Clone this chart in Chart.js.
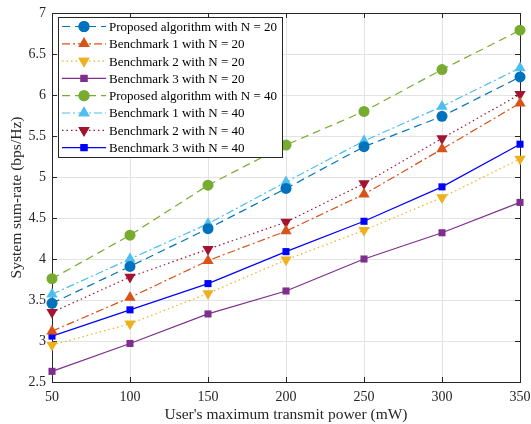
<!DOCTYPE html>
<html>
<head>
<meta charset="utf-8">
<script src="https://cdn.jsdelivr.net/npm/chart.js@4/dist/chart.umd.min.js"></script>
<style>
  html, body { margin: 0; padding: 0; background: #fff; }
  #wrap { width: 531px; height: 424px; }
</style>
</head>
<body>
<div id="wrap"><canvas id="grafica" width="531" height="424"></canvas></div>
<script>
// potencias (mW)
const potencias = [50, 100, 150, 200, 250, 300, 350];

// tasa total (bps/Hz)
const propuestoN20 = [3.46, 3.91, 4.37, 4.86, 5.37, 5.74, 6.22];
const bench1N20 = [3.12, 3.53, 3.98, 4.34, 4.79, 5.34, 5.90];
const bench2N20 = [2.95, 3.21, 3.58, 3.99, 4.35, 4.75, 5.22];
const bench3N20 = [2.63, 2.97, 3.33, 3.61, 4.00, 4.32, 4.69];
const propuestoN40 = [3.76, 4.29, 4.90, 5.39, 5.80, 6.31, 6.79];
const bench1N40 = [3.57, 4.00, 4.43, 4.94, 5.44, 5.86, 6.33];
const bench2N40 = [3.35, 3.78, 4.12, 4.45, 4.92, 5.47, 6.01];
const bench3N40 = [3.06, 3.38, 3.70, 4.09, 4.46, 4.88, 5.40];

const etiquetas = [
    'Proposed algorithm with N = 20',
    'Benchmark 1 with N = 20',
    'Benchmark 2 with N = 20',
    'Benchmark 3 with N = 20',
    'Proposed algorithm with N = 40',
    'Benchmark 1 with N = 40',
    'Benchmark 2 with N = 40',
    'Benchmark 3 with N = 40',
];

const DASH = [8, 5];
const DASHDOT = [8, 3, 2, 3];
const DOT = [1.5, 3];

function serie(label, data, color, dash, estilo, rot, radio) {
    return {
        label: label,
        data: data.map((v, i) => ({ x: potencias[i], y: v })),
        borderColor: color,
        backgroundColor: color,
        borderWidth: 1.2,
        borderDash: dash,
        pointStyle: estilo,
        rotation: rot,
        pointRadius: radio,
        pointBorderWidth: 0,
        pointHoverRadius: radio,
        fill: false,
        tension: 0,
        clip: false,
    };
}

const datasets = [
    serie(etiquetas[0], propuestoN20, '#0072BD', DASH, 'circle', 0, 5.5),
    serie(etiquetas[1], bench1N20, '#D95319', DASHDOT, 'triangle', 0, 6.5),
    serie(etiquetas[2], bench2N20, '#EDB120', DOT, 'triangle', 180, 6.5),
    serie(etiquetas[3], bench3N20, '#7E2F8E', [], 'rect', 0, 5),
    serie(etiquetas[4], propuestoN40, '#77AC30', DASH, 'circle', 0, 5.5),
    serie(etiquetas[5], bench1N40, '#4DBEEE', DASHDOT, 'triangle', 0, 6.5),
    serie(etiquetas[6], bench2N40, '#A2142F', DOT, 'triangle', 180, 6.5),
    serie(etiquetas[7], bench3N40, '#0000FF', [], 'rect', 0, 5),
];

const FUENTE = '"Liberation Serif", "Times New Roman", serif';

// marco, marcas interiores y leyenda dentro del area
const marcoPlugin = {
    id: 'marco',
    beforeDatasetsDraw(chart) {
        const { ctx, chartArea: a, scales } = chart;
        ctx.save();
        ctx.strokeStyle = '#262626';
        ctx.lineWidth = 1;
        ctx.strokeRect(a.left + 0.5, a.top + 0.5, a.right - a.left, a.bottom - a.top);
        ctx.beginPath();
        scales.y.ticks.forEach(t => {
            const y = Math.round(scales.y.getPixelForValue(t.value)) + 0.5;
            ctx.moveTo(a.left, y); ctx.lineTo(a.left + 5, y);
            ctx.moveTo(a.right, y); ctx.lineTo(a.right - 5, y);
        });
        scales.x.ticks.forEach(t => {
            const x = Math.round(scales.x.getPixelForValue(t.value)) + 0.5;
            ctx.moveTo(x, a.bottom); ctx.lineTo(x, a.bottom - 5);
            ctx.moveTo(x, a.top); ctx.lineTo(x, a.top + 5);
        });
        ctx.stroke();
        ctx.restore();
    },
    afterDatasetsDraw(chart) {
        const { ctx } = chart;
        ctx.save();
        // leyenda
        const lx = 58, ly = 17, lw = 224, lh = 140;
        ctx.fillStyle = '#fff';
        ctx.fillRect(lx, ly, lw, lh);
        ctx.strokeStyle = '#262626';
        ctx.lineWidth = 1;
        ctx.strokeRect(lx + 0.5, ly + 0.5, lw, lh);
        ctx.font = '13px ' + FUENTE;
        ctx.textBaseline = 'middle';
        chart.data.datasets.forEach((ds, i) => {
            const y = ly + 9.5 + i * 17.3;
            ctx.strokeStyle = ds.borderColor;
            ctx.lineWidth = ds.borderWidth;
            ctx.setLineDash(ds.borderDash);
            ctx.beginPath();
            ctx.moveTo(62, y); ctx.lineTo(106, y);
            ctx.stroke();
            ctx.setLineDash([]);
            ctx.fillStyle = ds.borderColor;
            Chart.helpers.drawPoint(ctx, {
                pointStyle: ds.pointStyle,
                rotation: ds.rotation,
                radius: ds.pointRadius,
                borderWidth: 0,
            }, 84, y);
            ctx.fill();
            ctx.fillStyle = '#000';
            ctx.fillText(ds.label, 109, y + 1);
        });
        ctx.restore();
    }
};

const ctx = document.getElementById('grafica').getContext('2d');
new Chart(ctx, {
    type: 'line',
    data: { datasets: datasets },
    options: {
        responsive: false,
        animation: false,
        layout: { padding: { left: 4, right: 11, top: 13, bottom: 0 } },
        plugins: { legend: { display: false }, tooltip: { enabled: false } },
        scales: {
            x: {
                type: 'linear',
                min: 50,
                max: 350,
                ticks: { stepSize: 50, color: '#262626', font: { family: FUENTE, size: 14 }, padding: 7, maxRotation: 0 },
                grid: { color: '#e3e3e3', drawTicks: false },
                border: { display: false },
                title: { display: true, text: "User's maximum transmit power (mW)", color: '#262626', font: { family: FUENTE, size: 15.5 }, padding: { top: 1, bottom: 0 } },
                afterFit(s) { s.height = 42; s.paddingLeft = 0; s.paddingRight = 0; },
            },
            y: {
                min: 2.5,
                max: 7,
                ticks: {
                    stepSize: 0.5, color: '#262626', font: { family: FUENTE, size: 14 }, padding: 6,
                    callback: v => String(v),
                },
                grid: { color: '#e3e3e3', drawTicks: false },
                border: { display: false },
                title: { display: true, text: 'System sum-rate (bps/Hz)', color: '#262626', font: { family: FUENTE, size: 15.5 }, padding: { bottom: 2 } },
                afterFit(s) { s.width = 48; s.paddingTop = 0; s.paddingBottom = 0; },
            },
        },
    },
    plugins: [marcoPlugin],
});
</script>
</body>
</html>
